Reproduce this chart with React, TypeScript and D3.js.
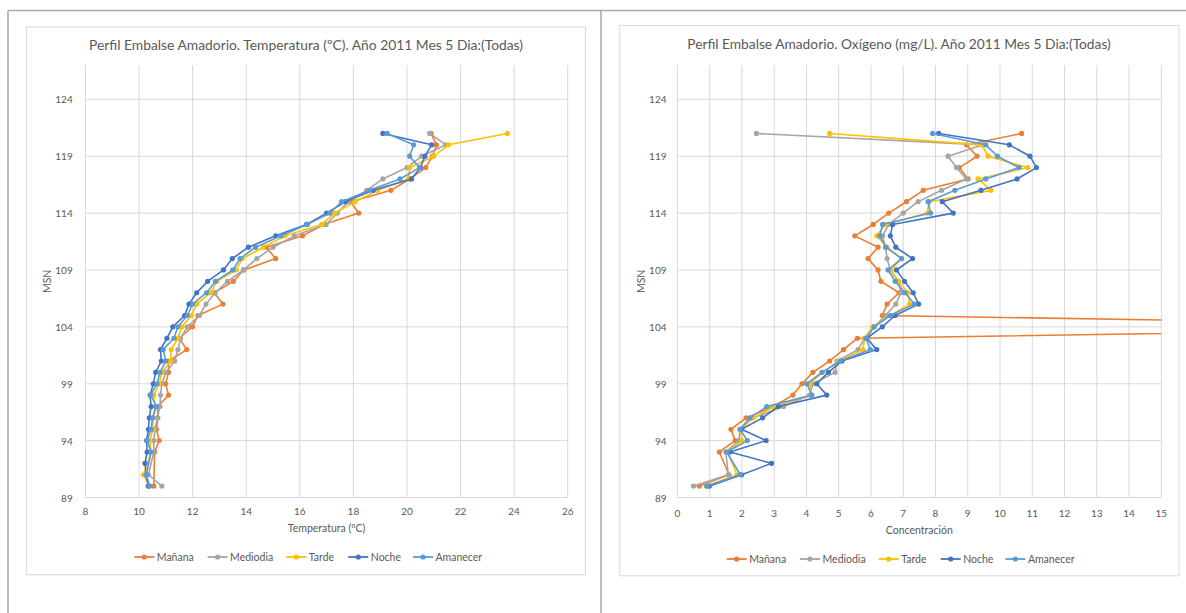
import React from "react";
import * as d3 from "d3";

// Profile depths (m above sea level), top to bottom
const depths = [121, 120, 119, 118, 117, 116, 115, 114, 113, 112, 111, 110, 109, 108, 107, 106, 105, 104, 103, 102, 101, 100, 99, 98, 97, 96, 95, 94, 93, 92, 91, 90];

const seriesNames = ["Mañana", "Mediodia", "Tarde", "Noche", "Amanecer"];
const seriesColors = ["#ED7D31", "#A5A5A5", "#FFC000", "#4472C4", "#5B9BD5"];

// Temperature (ºC) per depth, one array per time of day
const tempManana = [20.9, 21.1, 20.95, 20.7, 20.1, 19.4, 17.9, 18.2, 16.9, 16.1, 14.75, 15.1, 13.9, 13.52, 12.8, 13.13, 12.2, 11.99, 11.5, 11.78, 11.1, 11.1, 10.99, 11.1, 10.7, 10.7, 10.65, 10.75, 10.58, null, null, 10.55];
const tempMediodia = [20.85, 21.45, 20.55, 20.0, 19.1, 18.5, 17.8, 17.4, 16.98, 15.8, 15.0, 14.4, 13.9, 13.3, 12.84, 12.5, 12.25, 11.8, 11.55, 11.45, 11.33, 11.0, 10.85, 10.8, 10.78, 10.68, 10.6, 10.55, 10.55, null, 10.35, 10.85];
const tempTarde = [23.75, 21.55, 21.0, 20.1, 20.05, 18.9, 18.06, 17.3, 16.82, 15.45, 14.64, 13.85, 13.62, 12.9, 12.67, 12.15, 11.95, 11.6, 11.45, 11.2, 11.18, 10.85, 10.75, 10.55, 10.6, 10.52, 10.52, 10.4, 10.45, null, 10.16, 10.38];
const tempNoche = [19.1, 20.92, 20.67, 20.5, 20.17, 18.74, 17.7, 17.0, 16.25, 15.1, 14.08, 13.48, 13.15, 12.56, 12.15, 11.86, 11.7, 11.26, 11.04, 10.8, 10.83, 10.62, 10.53, 10.41, 10.45, 10.38, 10.35, 10.28, 10.3, 10.22, 10.27, 10.34];
const tempAmanecer = [19.26, 20.25, 20.1, 20.47, 19.74, 18.6, 17.56, 17.12, 16.28, 15.3, 14.35, 13.77, 13.5, 12.85, 12.52, 12.0, 11.8, 11.45, 11.3, 10.9, 11.0, 10.78, 10.67, 10.43, 10.65, 10.5, 10.45, 10.3, 10.45, null, 10.27, 10.4];

// Dissolved oxygen (mg/L) per depth
const oxManana = [10.67, 8.96, 9.29, 8.74, 9.01, 7.62, 7.1, 6.55, 6.07, 5.5, 6.22, 5.91, 6.22, 6.31, 6.87, 6.5, 6.35, 28, 5.58, 5.15, 4.72, 4.2, 3.86, 3.58, 2.97, 2.13, 1.66, 1.79, 1.3, null, 1.6, 0.68];
const oxMediodia = [2.45, 9.48, 8.39, 8.65, 8.96, 8.19, 7.46, 7.0, 6.55, 6.36, 6.45, 6.5, 6.6, 6.85, 6.93, 6.77, 6.45, 6.1, 5.8, 5.6, 4.95, 4.89, 4.2, 4.1, 3.29, 2.35, 1.95, 1.9, 1.5, null, 1.58, 0.5];
const oxTarde = [4.72, 9.43, 9.63, 10.86, 9.32, 9.72, 7.8, 7.75, 6.45, 6.18, 6.5, 6.95, 6.62, 6.85, 7.15, 7.2, 6.6, 6.05, 5.8, 5.75, 5.0, 4.5, 4.1, 4.15, 3.0, 2.35, 1.95, 2.0, 1.55, null, 1.85, 0.9];
const oxNoche = [8.1, 10.29, 10.93, 11.13, 10.53, 9.41, 8.21, 8.55, 6.67, 6.6, 6.77, 7.29, 6.79, 7.04, 7.31, 7.48, 6.75, 6.35, 5.87, 6.18, 5.1, 4.68, 4.32, 4.63, 3.13, 2.64, 1.99, 2.75, 1.63, 2.92, 1.99, 0.99];
const oxAmanecer = [7.91, 9.56, 9.92, 10.59, 9.56, 8.6, 7.77, 7.85, 6.36, 6.27, 6.46, 6.95, 6.53, 6.75, 7.05, 7.35, 6.6, 6.1, 5.85, 5.98, 5.05, 4.48, 4.01, 4.17, 2.77, 2.25, 1.94, 2.17, 1.53, null, 1.95, 0.91];

// Axis ticks
const depthTicks = [89, 94, 99, 104, 109, 114, 119, 124];
const tempTicks = [8, 10, 12, 14, 16, 18, 20, 22, 24, 26];
const oxTicks = [0, 1, 2, 3, 4, 5, 6, 7, 8, 9, 10, 11, 12, 13, 14, 15];

const tempTitle = "Perfil Embalse Amadorio. Temperatura (ºC). Año 2011 Mes 5 Dia:(Todas)";
const oxTitle = "Perfil Embalse Amadorio. Oxígeno (mg/L). Año 2011 Mes 5 Dia:(Todas)";

const FONT = "Lato, 'Open Sans', 'Liberation Sans', sans-serif";
const TEXT = "#595959";
const GRID = "#D9D9D9";

type Layout = {
  box: { x: number; y: number; w: number; h: number };
  plot: { left: number; right: number; top: number; bottom: number };
  titleX: number;
  titleW: number;
  titleY: number;
  yLabelX: number;
  yTitleX: number;
  xLabelY: number;
  xTitleY: number;
  legendX: number;
  legendY: number;
};

const legendOffsets = [0, 73.3, 152, 214, 278.7];

type Props = {
  id: string;
  layout: Layout;
  title: string;
  xTitle: string;
  xDomain: [number, number];
  xTicks: number[];
  values: (number | null)[][];
};

function ProfileChart({ id, layout, title, xTitle, xDomain, xTicks, values }: Props) {
  const { plot } = layout;
  const x = d3.scaleLinear().domain(xDomain).range([plot.left, plot.right]);
  const y = d3.scaleLinear().domain([89, 127]).range([plot.bottom, plot.top]);
  const line = d3
    .line<[number, number]>()
    .x((d) => x(d[0]))
    .y((d) => y(d[1]));

  const series = values.map((vals) =>
    depths
      .map((d, i) => [vals[i], d] as [number | null, number])
      .filter((p) => p[0] !== null) as [number, number][]
  );

  const clipId = `clip-${id}`;

  return (
    <g>
      <rect
        x={layout.box.x}
        y={layout.box.y}
        width={layout.box.w}
        height={layout.box.h}
        fill="#fff"
        stroke={GRID}
        strokeWidth={1}
      />
      <defs>
        <clipPath id={clipId}>
          <rect x={plot.left} y={plot.top - 6} width={plot.right - plot.left} height={plot.bottom - plot.top + 12} />
        </clipPath>
      </defs>
      <text
        x={layout.titleX}
        y={layout.titleY}
        textAnchor="middle"
        dominantBaseline="central"
        fontFamily={FONT}
        fontSize={14}
        fill={TEXT}
        textLength={layout.titleW}
        lengthAdjust="spacingAndGlyphs"
      >
        {title}
      </text>

      {/* grid */}
      {xTicks.map((t) => (
        <line key={`vx${t}`} x1={x(t)} x2={x(t)} y1={plot.top} y2={plot.bottom} stroke={GRID} strokeWidth={1} />
      ))}
      {depthTicks.map((t) => (
        <line key={`hy${t}`} x1={plot.left} x2={plot.right} y1={y(t)} y2={y(t)} stroke={GRID} strokeWidth={1} />
      ))}

      {/* tick labels */}
      {xTicks.map((t) => (
        <text
          key={`lx${t}`}
          x={x(t)}
          y={layout.xLabelY}
          textAnchor="middle"
          dominantBaseline="central"
          fontFamily={FONT}
          fontSize={10}
          fill={TEXT}
        >
          {t}
        </text>
      ))}
      {depthTicks.map((t) => (
        <text
          key={`ly${t}`}
          x={layout.yLabelX}
          y={y(t)}
          textAnchor="end"
          dominantBaseline="central"
          fontFamily={FONT}
          fontSize={10}
          fill={TEXT}
        >
          {t}
        </text>
      ))}

      {/* axis titles */}
      <text
        x={(plot.left + plot.right) / 2}
        y={layout.xTitleY}
        textAnchor="middle"
        dominantBaseline="central"
        fontFamily={FONT}
        fontSize={10.5}
        fill={TEXT}
      >
        {xTitle}
      </text>
      <text
        transform={`translate(${layout.yTitleX},${(plot.top + plot.bottom) / 2}) rotate(-90)`}
        textAnchor="middle"
        dominantBaseline="central"
        fontFamily={FONT}
        fontSize={10.5}
        fill={TEXT}
      >
        MSN
      </text>

      {/* series */}
      <g clipPath={`url(#${clipId})`}>
        {series.map((pts, si) => (
          <g key={seriesNames[si]}>
            <path d={line(pts) || ""} fill="none" stroke={seriesColors[si]} strokeWidth={1.6} strokeLinejoin="round" />
            {pts.map((p, pi) => (
              <circle key={pi} cx={x(p[0])} cy={y(p[1])} r={2.6} fill={seriesColors[si]} />
            ))}
          </g>
        ))}
      </g>

      {/* legend */}
      {seriesNames.map((name, i) => {
        const lx = layout.legendX + legendOffsets[i];
        return (
          <g key={`lg${name}`}>
            <line x1={lx} x2={lx + 20} y1={layout.legendY} y2={layout.legendY} stroke={seriesColors[i]} strokeWidth={1.8} />
            <circle cx={lx + 10} cy={layout.legendY} r={2.6} fill={seriesColors[i]} />
            <text
              x={lx + 22.5}
              y={layout.legendY}
              dominantBaseline="central"
              fontFamily={FONT}
              fontSize={10.5}
              fill={TEXT}
            >
              {name}
            </text>
          </g>
        );
      })}
    </g>
  );
}

const leftLayout: Layout = {
  box: { x: 26.4, y: 27, w: 559.1, h: 547.7 },
  plot: { left: 85.5, right: 567.7, top: 65.2, bottom: 497.5 },
  titleX: 306,
  titleW: 434,
  titleY: 44.5,
  yLabelX: 72.7,
  yTitleX: 47,
  xLabelY: 511,
  xTitleY: 528,
  legendX: 134.3,
  legendY: 557,
};

const rightLayout: Layout = {
  box: { x: 619.8, y: 25.4, w: 559.2, h: 550.4 },
  plot: { left: 677.4, right: 1161.3, top: 65.2, bottom: 497.5 },
  titleX: 899,
  titleW: 423.5,
  titleY: 43.5,
  yLabelX: 666.5,
  yTitleX: 641,
  xLabelY: 512.5,
  xTitleY: 529.5,
  legendX: 726.7,
  legendY: 559,
};

export default function App() {
  return (
    <svg
      width={1186}
      height={613}
      style={{ position: "absolute", left: 0, top: 0, background: "#fff" }}
    >
      <rect x={0} y={0} width={1186} height={613} fill="#fff" />
      {/* sheet frame */}
      <line x1={8} x2={1186} y1={10.5} y2={10.5} stroke="#ABABAB" strokeWidth={1.6} />
      <line x1={8} x2={8} y1={10.5} y2={613} stroke="#ABABAB" strokeWidth={1.6} />
      <line x1={601} x2={601} y1={10.5} y2={613} stroke="#ABABAB" strokeWidth={1.6} />

      <ProfileChart
        id="temp"
        layout={leftLayout}
        title={tempTitle}
        xTitle="Temperatura (ºC)"
        xDomain={[8, 26]}
        xTicks={tempTicks}
        values={[tempManana, tempMediodia, tempTarde, tempNoche, tempAmanecer]}
      />
      <ProfileChart
        id="oxy"
        layout={rightLayout}
        title={oxTitle}
        xTitle="Concentración"
        xDomain={[0, 15]}
        xTicks={oxTicks}
        values={[oxManana, oxMediodia, oxTarde, oxNoche, oxAmanecer]}
      />
    </svg>
  );
}
